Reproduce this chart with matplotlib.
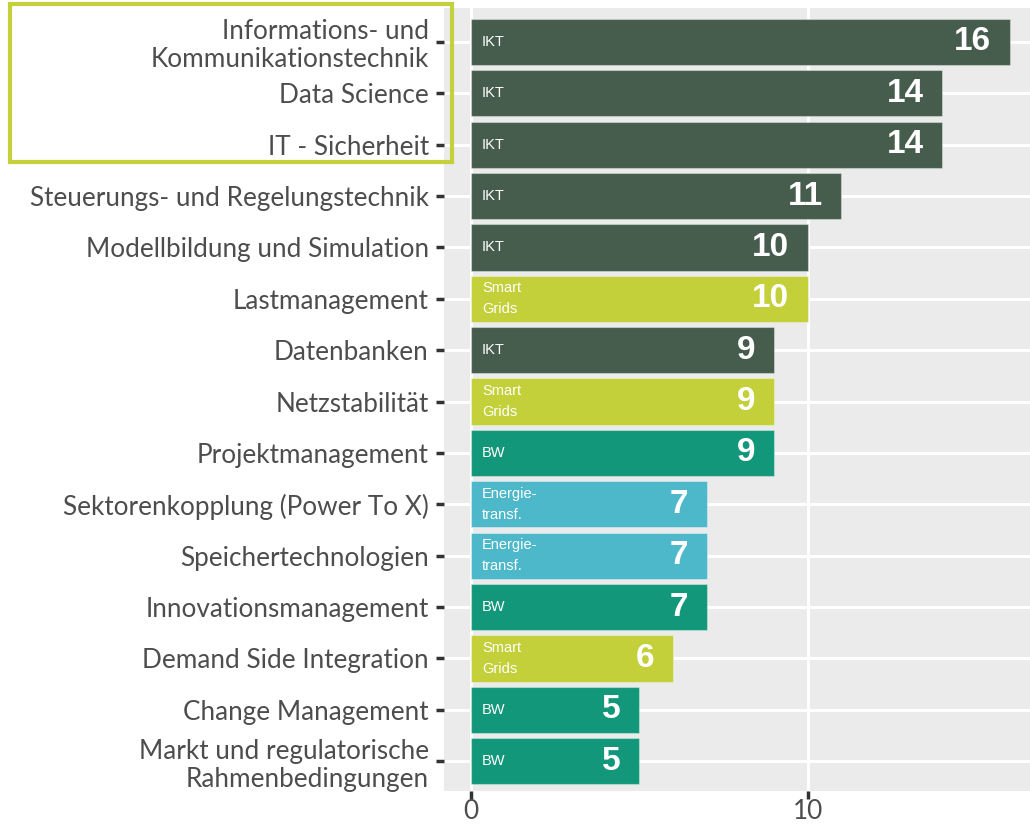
import matplotlib
matplotlib.use('Agg')
import matplotlib.pyplot as plt
from matplotlib.patches import Rectangle

# Data (top to bottom)
skills = [
    "Informations- und\nKommunikationstechnik",
    "Data Science",
    "IT - Sicherheit",
    "Steuerungs- und Regelungstechnik",
    "Modellbildung und Simulation",
    "Lastmanagement",
    "Datenbanken",
    "Netzstabilität",
    "Projektmanagement",
    "Sektorenkopplung (Power To X)",
    "Speichertechnologien",
    "Innovationsmanagement",
    "Demand Side Integration",
    "Change Management",
    "Markt und regulatorische\nRahmenbedingungen",
]
counts = [16, 14, 14, 11, 10, 10, 9, 9, 9, 7, 7, 7, 6, 5, 5]
groups = ["IKT", "IKT", "IKT", "IKT", "IKT", "Smart\nGrids", "IKT", "Smart\nGrids",
          "BW", "Energie-\ntransf.", "Energie-\ntransf.", "BW", "Smart\nGrids", "BW", "BW"]
group_colors = {
    "IKT": "#465c4d",
    "Smart\nGrids": "#c3d03a",
    "BW": "#13977a",
    "Energie-\ntransf.": "#4cb8c9",
}
x_ticks = [0, 10]

fig = plt.figure(figsize=(10.3, 8.3), dpi=100)
ax = fig.add_axes([444 / 1030, 1 - 791 / 830, 1 - 444 / 1030, (791 - 8) / 830])
ax.set_facecolor("#ebebeb")

ypos = list(range(len(skills)))
ax.barh(ypos, counts, height=0.9, color=[group_colors[g] for g in groups],
        edgecolor=(1, 1, 1, 0.35), linewidth=0.8, zorder=3)

for y, c, g in zip(ypos, counts, groups):
    ax.text(0.33, y, g, color="white", fontsize=10.5, family="Liberation Sans",
            va="center", ha="left", linespacing=1.6, zorder=4)
    ax.text(c - 0.55, y, str(c), color="white", fontsize=24, fontweight="bold",
            family="Liberation Sans", va="center", ha="right", zorder=4)

ax.set_xlim(-0.8, 16.6)
ax.set_ylim(14.58, -0.66)
ax.set_yticks(ypos)
ax.set_yticklabels(skills, fontsize=18.8, family="Lato", color="#4d4d4d", linespacing=1.15)
ax.set_xticks(x_ticks)
ax.set_xticklabels([str(t) for t in x_ticks], fontsize=18.8, family="Lato", color="#4d4d4d")
ax.tick_params(axis="both", length=6, width=2.5, color="#333333")
ax.tick_params(axis="y", pad=5)
ax.tick_params(axis="x", pad=0)

ax.grid(True, color="white", linewidth=2.2, zorder=0)
ax.set_axisbelow(True)
for s in ax.spines.values():
    s.set_visible(False)

# highlight box around top three labels
fig.patches.append(Rectangle((10 / 1030, 1 - 162 / 830), 442 / 1030, 158 / 830,
                             transform=fig.transFigure, fill=False,
                             edgecolor="#c5d13a", linewidth=3, zorder=10))

fig.savefig("out.png", dpi=100)
